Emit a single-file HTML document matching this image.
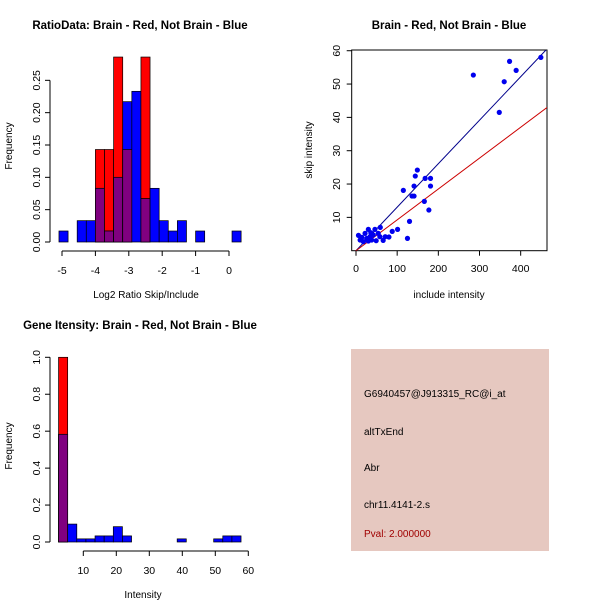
<!DOCTYPE html>
<html><head><meta charset="utf-8"><style>
body{margin:0;background:#fff;overflow:hidden}
svg{display:block;font-family:"Liberation Sans",sans-serif}
</style></head><body>
<svg id="s" width="600" height="600" viewBox="0 0 600 600"></svg>
<script>
const ratioBinIdx=[-4,-3,-2,-1,0,1,2,3,4,5,6,7,8,9,10,11,12,13,14,15];
const ratioBlue=[0.017,0,0.033,0.033,0.083,0.017,0.1,0.217,0.233,0.067,0.083,0.033,0.017,0.033,0,0.017,0,0,0,0.017];
const ratioRed=[0,0,0,0,0.143,0.143,0.286,0.143,0,0.286,0,0,0,0,0,0,0,0,0,0];
const ratioXTicks=[-5,-4,-3,-2,-1,0];
const ratioYTicks=[0,0.05,0.10,0.15,0.20,0.25];
const incX=[285,348,360,373,389,449,149,144,168,181,141,181,115,136,141,166,177,130,59,101,88,125,80,71,66,30,46,6,14,18,22,26,34,38,42,49,54,10,30,58,36];
const skipY=[52.7,41.5,50.7,56.8,54.1,58,24.2,22.4,21.7,21.7,19.4,19.4,18.1,16.4,16.4,14.8,12.2,8.8,7,6.4,5.8,3.7,4.1,4.2,3.1,6.4,6.4,4.6,4,2.7,5.2,3.7,4.2,3.2,4.7,3,5.2,3.2,2.9,4.2,5.4];
const blueSlope=[0.1305];
const redSlope=[0.0926];
const scXTicks=[0,100,200,300,400];
const scYTicks=[10,20,30,40,50,60];
const intBlue=[0.583,0.097,0.017,0.017,0.033,0.033,0.083,0.033,0,0,0,0,0,0.017,0,0,0,0.017,0.033,0.033];
const intRed=[1.0,0,0,0,0,0,0,0,0,0,0,0,0,0,0,0,0,0,0,0];
const intXTicks=[10,20,30,40,50,60];
const intYTicks=[0,0.2,0.4,0.6,0.8,1.0];
const infoLines=["G6940457@J913315_RC@i_at","altTxEnd","Abr","chr11.4141-2.s"];
const pvalText="Pval: 2.000000";

const NS="http://www.w3.org/2000/svg";
const svg=document.getElementById('s');
function el(tag,attrs,parent,text){const e=document.createElementNS(NS,tag);for(const k in attrs)e.setAttribute(k,attrs[k]);if(text!==undefined)e.textContent=text;(parent||svg).appendChild(e);return e;}
function bars(g,x0,x1,r,b,ys){
 const m=Math.min(r,b);
 if(r>0){const e=el('rect',{x:x0,y:ys(r),width:x1-x0,height:ys(0)-ys(r),fill:'#ff0000',stroke:'#000','stroke-width':0.7},g);
  
  }
 if(b>0){const e=el('rect',{x:x0,y:ys(b),width:x1-x0,height:ys(0)-ys(b),fill:'#0000ff',stroke:'#000','stroke-width':0.7},g);
  
  }
 if(m>0){const e=el('rect',{x:x0,y:ys(m),width:x1-x0,height:ys(0)-ys(m),fill:'#800080',stroke:'#000','stroke-width':0.7},g);
  
  }
}
// Panel 1
{
const g=el('g',{});


const xs=v=>62+(v+5)*33.4, ys=v=>242-v*646.7, w=0.2727;
ratioBinIdx.forEach((k,i)=>bars(g,xs(-4+k*w),xs(-4+(k+1)*w),ratioRed[i],ratioBlue[i],ys));
el('line',{x1:xs(-5),x2:xs(0),y1:251,y2:251,stroke:'#000'},g);
ratioXTicks.forEach(t=>{el('line',{x1:xs(t),x2:xs(t),y1:251,y2:256,stroke:'#000'},g);
 el('text',{x:xs(t),y:274,'font-size':10.5,'text-anchor':'middle'},g,String(t));});
el('line',{x1:50,x2:50,y1:ys(0),y2:ys(0.25),stroke:'#000'},g);
ratioYTicks.forEach(t=>{el('line',{x1:45,x2:50,y1:ys(t),y2:ys(t),stroke:'#000'},g);
 el('text',{x:40,y:ys(t),'font-size':10.5,'text-anchor':'middle',transform:`rotate(-90 40 ${ys(t)})`},g,t.toFixed(2));});
el('text',{x:140,y:29,'font-size':11.5,'font-weight':'bold','text-anchor':'middle'},g,'RatioData: Brain - Red, Not Brain - Blue');
el('text',{x:146,y:298,'font-size':10,'text-anchor':'middle'},g,'Log2 Ratio Skip/Include');
el('text',{x:12,y:146,'font-size':10,'text-anchor':'middle',transform:'rotate(-90 12 146)'},g,'Frequency');
}
// Panel 2
{
const g=el('g',{});


const xs=v=>356+v*0.4117, ys=v=>250.7-v*3.333;
el('rect',{x:351.7,y:50,width:195.3,height:200.7,fill:'none',stroke:'#000'},g);
const clip=el('clipPath',{id:'c2'},g);el('rect',{x:351.7,y:50,width:195.3,height:200.7},clip);
const bl=el('line',{x1:xs(-10),y1:ys(-10*blueSlope[0]),x2:xs(470),y2:ys(470*blueSlope[0]),stroke:'#00008b','clip-path':'url(#c2)'},g);


const rl=el('line',{x1:xs(-10),y1:ys(-10*redSlope[0]),x2:xs(470),y2:ys(470*redSlope[0]),stroke:'#cc0000','clip-path':'url(#c2)'},g);


incX.forEach((x,i)=>{const c=el('circle',{cx:xs(x),cy:ys(skipY[i]),r:2.6,fill:'#0000ee'},g);
 
 });
scXTicks.forEach(t=>{el('line',{x1:xs(t),x2:xs(t),y1:250.7,y2:255.7,stroke:'#000'},g);
 el('text',{x:xs(t),y:272,'font-size':10.5,'text-anchor':'middle'},g,String(t));});
scYTicks.forEach(t=>{el('line',{x1:346.7,x2:351.7,y1:ys(t),y2:ys(t),stroke:'#000'},g);
 el('text',{x:340,y:ys(t),'font-size':10.5,'text-anchor':'middle',transform:`rotate(-90 340 ${ys(t)})`},g,String(t));});
el('text',{x:449,y:29,'font-size':11.5,'font-weight':'bold','text-anchor':'middle'},g,'Brain - Red, Not Brain - Blue');
el('text',{x:449,y:298,'font-size':10,'text-anchor':'middle'},g,'include intensity');
el('text',{x:312,y:150,'font-size':10,'text-anchor':'middle',transform:'rotate(-90 312 150)'},g,'skip intensity');
}
// Panel 3
{
const g=el('g',{});


const xs=v=>83.3+(v-10)*3.3, ys=v=>542-v*184.7, w=2.765, st=2.5;
intBlue.forEach((b,k)=>bars(g,xs(st+k*w),xs(st+(k+1)*w),intRed[k],b,ys));
el('line',{x1:xs(10),x2:xs(60),y1:551,y2:551,stroke:'#000'},g);
intXTicks.forEach(t=>{el('line',{x1:xs(t),x2:xs(t),y1:551,y2:556,stroke:'#000'},g);
 el('text',{x:xs(t),y:574,'font-size':10.5,'text-anchor':'middle'},g,String(t));});
el('line',{x1:50,x2:50,y1:ys(0),y2:ys(1),stroke:'#000'},g);
intYTicks.forEach(t=>{el('line',{x1:45,x2:50,y1:ys(t),y2:ys(t),stroke:'#000'},g);
 el('text',{x:40,y:ys(t),'font-size':10.5,'text-anchor':'middle',transform:`rotate(-90 40 ${ys(t)})`},g,t.toFixed(1));});
el('text',{x:140,y:329,'font-size':11.5,'font-weight':'bold','text-anchor':'middle'},g,'Gene Itensity: Brain - Red, Not Brain - Blue');
el('text',{x:143,y:598,'font-size':10,'text-anchor':'middle'},g,'Intensity');
el('text',{x:12,y:446,'font-size':10,'text-anchor':'middle',transform:'rotate(-90 12 446)'},g,'Frequency');
}
// Panel 4
{
const g=el('g',{});


el('rect',{x:351,y:349,width:198,height:202,fill:'#e6c8c0'},g);
const ys=[397,435,471,508];
infoLines.forEach((s,i)=>{const t=el('text',{x:364,y:ys[i],'font-size':10,fill:'#000'},g,s);
 
 });
const p=el('text',{x:364,y:537,'font-size':10,fill:'#a00000'},g,pvalText);


}
</script>
</body></html>
